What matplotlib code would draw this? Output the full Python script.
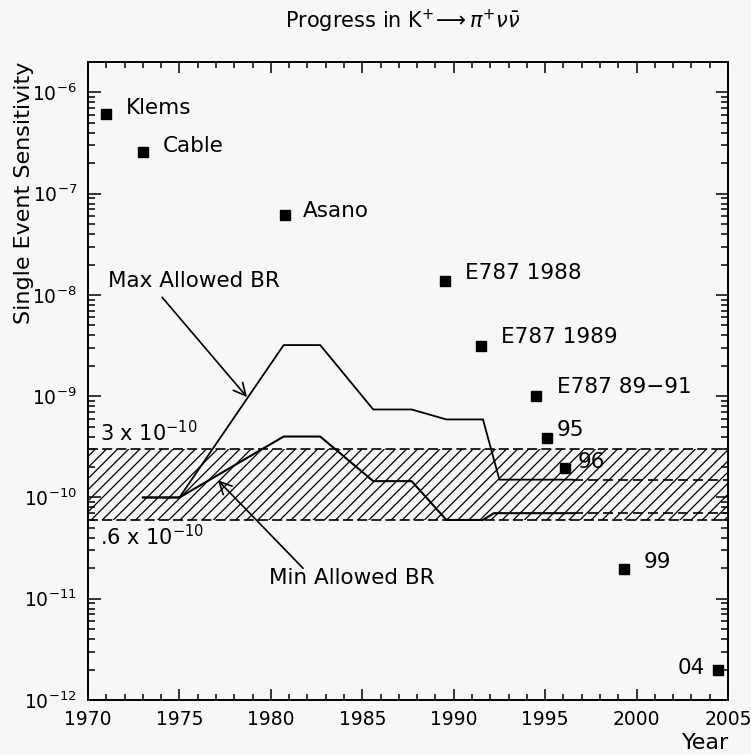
import numpy as np
import matplotlib
matplotlib.use('Agg')
import matplotlib.pyplot as plt
from matplotlib.ticker import MultipleLocator, LogLocator, NullFormatter

# measurements: year, single event sensitivity
expNames = ['Klems', 'Cable', 'Asano', 'E787 1988', 'E787 1989',
            'E787 89\u221291', '95', '96', '99', '04']
expYears = [1971.0, 1973.0, 1980.8, 1989.5, 1991.5, 1994.5, 1995.1,
            1996.1, 1999.3, 2004.45]
expSES = [6.2e-7, 2.6e-7, 6.2e-8, 1.36e-8, 3.1e-9, 1.0e-9, 3.9e-10,
          1.95e-10, 1.96e-11, 2.0e-12]

# allowed branching ratio curves
brYears = [1973, 1975, 1980.7, 1982.7, 1985.6, 1987.7, 1989.6, 1991.6,
           1992.5, 1996.5]
maxBR = [1e-10, 1e-10, 3.2e-9, 3.2e-9, 7.4e-10, 7.4e-10, 5.9e-10,
         5.9e-10, 1.5e-10, 1.5e-10]
minYears = [1973, 1975, 1980.7, 1982.7, 1985.6, 1987.7, 1989.6, 1991.6,
            1992.2, 1996.5]
minBR = [1e-10, 1e-10, 4.0e-10, 4.0e-10, 1.45e-10, 1.45e-10, 6e-11,
         6e-11, 7e-11, 7e-11]
projYears = [1996.5, 2005]
projMax = [1.5e-10, 1.5e-10]
projMin = [7e-11, 7e-11]

# band of SM expectation
bandLow = 0.6e-10
bandHigh = 3e-10

bg = '#f7f7f7'
plt.rcParams['font.family'] = 'DejaVu Sans'
plt.rcParams['hatch.linewidth'] = 0.9

fig = plt.figure(figsize=(7.51, 7.55), dpi=100, facecolor=bg)
ax = fig.add_axes([88/751, 55/755, 640/751, 638/755], facecolor=bg)
ax.set_yscale('log')
ax.set_xlim(1970, 2005)
ax.set_ylim(1e-12, 2e-6)

# hatched band
ax.fill_between([1970, 2005], bandLow, bandHigh, facecolor='none',
                edgecolor='black', hatch='///', linewidth=0)
for lvl in (bandLow, bandHigh):
    ax.plot([1970, 2005], [lvl, lvl], color='black', lw=1.2,
            dashes=(6, 2.5))

# curves
ax.plot(brYears, maxBR, color='black', lw=1.3)
ax.plot(minYears, minBR, color='black', lw=1.5)
ax.plot(projYears, projMax, color='black', lw=1.2, dashes=(6, 3))
ax.plot(projYears, projMin, color='black', lw=1.2, dashes=(6, 3))

# points
ax.plot(expYears, expSES, 's', color='black', ms=7, mec='black')

# label offsets (pixels)
offsets = [(20, 6), (20, 6), (17, 4), (20, 8), (20, 9), (21, 9),
           (10, 8), (12, 6), (20, 7), (-13, 2)]
for name, x, y, off in zip(expNames, expYears, expSES, offsets):
    ax.annotate(name, (x, y), xytext=off, textcoords='offset pixels',
                ha='left' if off[0] > 0 else 'right', va='center',
                fontsize=15.5)

# arrows
ax.annotate('', xy=(1978.7, 9.8e-10), xytext=(1974.05, 9.5e-9),
            arrowprops=dict(arrowstyle='->', lw=1.2, color='black',
                            mutation_scale=22, shrinkA=0, shrinkB=0))
ax.text(1975.8, 1.36e-8, 'Max Allowed BR', ha='center', va='center',
        fontsize=15.5)
ax.annotate('', xy=(1977.1, 1.48e-10), xytext=(1981.76, 2.0e-11),
            arrowprops=dict(arrowstyle='->', lw=1.2, color='black',
                            mutation_scale=22, shrinkA=0, shrinkB=0))
ax.text(1984.4, 1.6e-11, 'Min Allowed BR', ha='center', va='center',
        fontsize=15.5)

ax.text(1970.66, 4.4e-10, r'3 x 10$^{-10}$', ha='left', va='center',
        fontsize=15)
ax.text(1970.66, 4.07e-11, r'.6 x 10$^{-10}$', ha='left', va='center',
        fontsize=15)

# axes styling
ax.xaxis.set_major_locator(MultipleLocator(5))
ax.xaxis.set_minor_locator(MultipleLocator(1))
ax.yaxis.set_major_locator(LogLocator(base=10, numticks=20))
ax.yaxis.set_minor_locator(LogLocator(base=10, subs=np.arange(2, 10),
                                      numticks=20))
ax.yaxis.set_minor_formatter(NullFormatter())
ax.tick_params(which='both', direction='in', top=True, right=True,
               width=1.1)
ax.tick_params(axis='x', which='major', length=8, pad=7, labelsize=13.5)
ax.tick_params(axis='x', which='minor', length=4)
ax.tick_params(axis='y', which='major', length=9, pad=8, labelsize=13.5)
ax.tick_params(axis='y', which='minor', length=5)
for sp in ax.spines.values():
    sp.set_linewidth(1.4)

fig.text(403/751, 1 - 21/755,
         r'Progress in K$^{+}\!\longrightarrow\pi^{+}\nu\bar{\nu}$',
         ha='center', va='center', fontsize=15)
fig.text(24/751, 1 - 62/755, 'Single Event Sensitivity', rotation=90,
         ha='center', va='top', fontsize=16)
fig.text(729/751, 1 - 743/755, 'Year', ha='right', va='center',
         fontsize=16)

fig.savefig('out.png', dpi=100, facecolor=bg)
